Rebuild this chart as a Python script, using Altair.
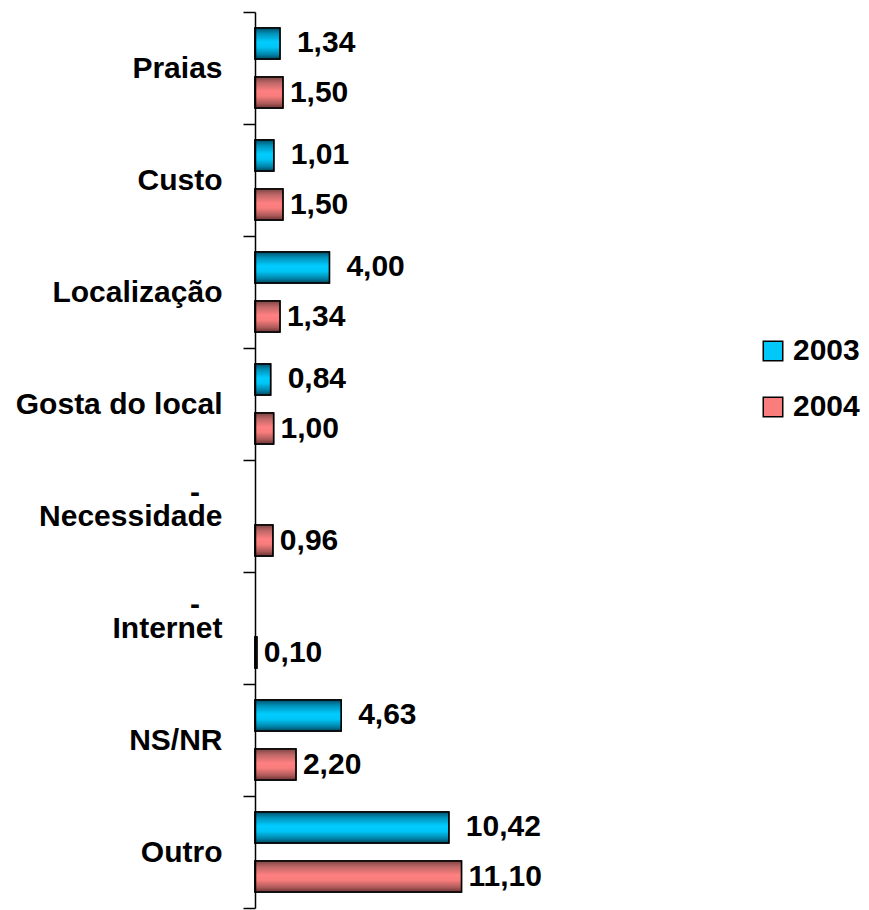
import altair as alt
import pandas as pd

categories = ["Praias", "Custo", "Localização", "Gosta do local",
              "Necessidade", "Internet", "NS/NR", "Outro"]
series = ["2003", "2004"]
v2003 = [1.34, 1.01, 4.00, 0.84, 0.0, 0.0, 4.63, 10.42]
v2004 = [1.50, 1.50, 1.34, 1.00, 0.96, 0.10, 2.20, 11.10]


def fmt(v):
    return "-" if v == 0 else f"{v:.2f}".replace(".", ",")


rows = []
for c, a, b in zip(categories, v2003, v2004):
    rows.append({"cat": c, "series": "2003", "value": a, "label": fmt(a)})
    rows.append({"cat": c, "series": "2004", "value": b, "label": fmt(b)})
df = pd.DataFrame(rows)

FONT = "Liberation Sans"
FS = 30

grad_blue = alt.Gradient(
    gradient="linear", x1=0, y1=0, x2=0, y2=1,
    stops=[alt.GradientStop(color="#004F6A", offset=0),
           alt.GradientStop(color="#0092BA", offset=0.18),
           alt.GradientStop(color="#00CCFF", offset=0.45),
           alt.GradientStop(color="#00C6F6", offset=0.62),
           alt.GradientStop(color="#0086AC", offset=0.85),
           alt.GradientStop(color="#00465E", offset=1)])
grad_red = alt.Gradient(
    gradient="linear", x1=0, y1=0, x2=0, y2=1,
    stops=[alt.GradientStop(color="#7E4444", offset=0),
           alt.GradientStop(color="#BC6666", offset=0.18),
           alt.GradientStop(color="#FF8080", offset=0.45),
           alt.GradientStop(color="#F87C7C", offset=0.62),
           alt.GradientStop(color="#AE5A5A", offset=0.85),
           alt.GradientStop(color="#6A3434", offset=1)])

y_enc = alt.Y("cat:N", sort=categories, title=None,
              scale=alt.Scale(paddingInner=0, paddingOuter=0),
              axis=alt.Axis(labelFont=FONT, labelFontSize=FS, labelFontWeight="bold",
                            labelColor="black", labelLimit=400, labelPadding=21,
                            tickBand="extent", tickSize=12, tickColor="black",
                            tickWidth=1.5, domainColor="black", domainWidth=1.5,
                            zindex=1))
yoff_enc = alt.YOffset("series:N",
                       scale=alt.Scale(domain=series, paddingInner=0.367,
                                       paddingOuter=0.326))
x_enc = alt.X("value:Q", axis=None,
              scale=alt.Scale(domain=[0, 31.18], nice=False, zero=True))

base = alt.Chart(df).encode(y=y_enc, yOffset=yoff_enc, x=x_enc)
bars_df = base.transform_filter("datum.value > 0")

legend_bars = bars_df.mark_bar(stroke="black", strokeWidth=1.5).encode(
    color=alt.Color("series:N",
                    scale=alt.Scale(domain=series, range=["#00C8F8", "#FA7D7D"]),
                    legend=alt.Legend(title=None, orient="none", legendX=503, legendY=324,
                                      symbolType="square", symbolSize=380,
                                      symbolStrokeColor="black", symbolStrokeWidth=1.5,
                                      labelFont=FONT, labelFontSize=FS,
                                      labelFontWeight="bold", labelColor="black",
                                      rowPadding=26, labelOffset=5, padding=0)))

blue = bars_df.transform_filter("datum.series == '2003'").mark_bar(
    fill=grad_blue, stroke="black", strokeWidth=1.5)
red = bars_df.transform_filter("datum.series == '2004'").mark_bar(
    fill=grad_red, stroke="black", strokeWidth=1.5)

txt_kw = dict(align="left", baseline="middle", font=FONT, fontSize=FS,
              fontWeight="bold", color="black")
t2003 = base.transform_filter("datum.series == '2003' && datum.value > 0").mark_text(
    dx=17, **txt_kw).encode(text="label:N")
t2004 = base.transform_filter("datum.series == '2004'").mark_text(
    dx=7, **txt_kw).encode(text="label:N")
tzero = base.transform_filter("datum.value == 0").mark_text(
    dx=-60, dy=2, align="center", baseline="middle", font=FONT, fontSize=FS,
    fontWeight="bold", color="black").encode(text="label:N")

chart = alt.layer(legend_bars, blue, red, t2003, t2004, tzero).properties(
    width=580, height=896,
    autosize=alt.AutoSizeParams(type="none"),
    padding={"left": 247, "top": 4, "right": 26, "bottom": 2},
    background="white",
).configure_view(stroke=None)

chart.save("out.html", embed_options={"renderer": "svg", "actions": False})
